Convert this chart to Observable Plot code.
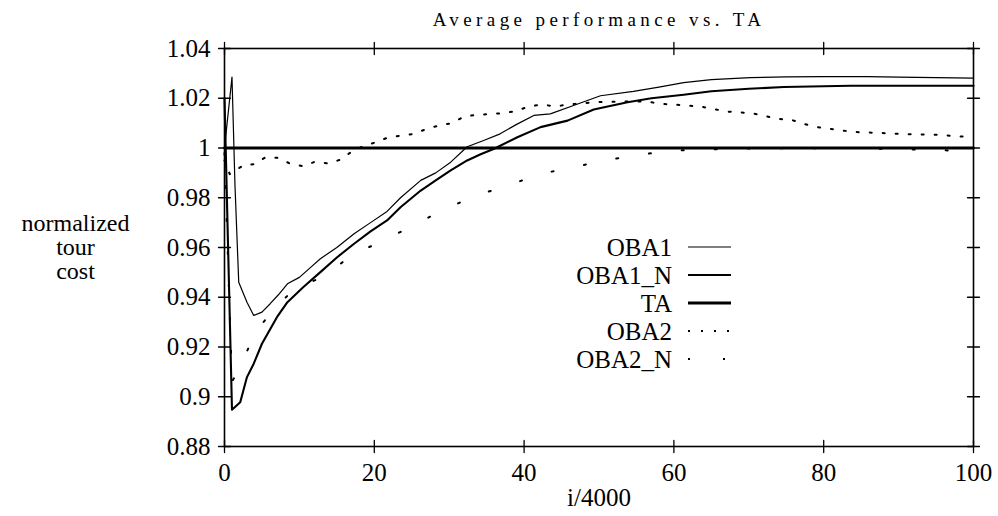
<!DOCTYPE html>
<html><head><meta charset="utf-8">
<script src="https://cdn.jsdelivr.net/npm/d3@7"></script>
<script src="https://cdn.jsdelivr.net/npm/@observablehq/plot@0.6"></script>
<style>
body{margin:0;background:#fff;}
#chart{position:relative;width:998px;height:516px;}
</style></head><body><div id="chart"></div>
<script>
// ---- data ----
const xTicks = [0, 20, 40, 60, 80, 100];
const xTickLabels = ["0", "20", "40", "60", "80", "100"];
const yTicks = [0.88, 0.90, 0.92, 0.94, 0.96, 0.98, 1.00, 1.02, 1.04];
const yTickLabels = ["0.88", "0.9", "0.92", "0.94", "0.96", "0.98", "1", "1.02", "1.04"];

const seriesNames = ["OBA1", "OBA1_N", "TA", "OBA2", "OBA2_N"];

const oba1X = [0, 1, 1.4, 1.9, 3, 3.9, 5, 6.1, 7.2, 8.4, 10, 11.5, 12.8, 15, 17.3, 19.5, 21.7, 23.5, 26.2, 28.2, 30.2, 32.4, 34.6, 36.8, 39, 41.3, 43.5, 46.6, 50.2, 54.6, 58, 61.3, 65, 70.2, 75, 80, 85.8, 90, 95, 100];
const oba1Y = [1.000, 1.0285, 0.985, 0.946, 0.938, 0.9327, 0.934, 0.9374, 0.941, 0.9454, 0.948, 0.952, 0.9555, 0.960, 0.9655, 0.970, 0.9745, 0.980, 0.987, 0.990, 0.9943, 1.0005, 1.003, 1.0057, 1.0095, 1.0131, 1.0137, 1.0171, 1.0210, 1.0228, 1.0245, 1.0263, 1.0275, 1.0283, 1.0286, 1.0287, 1.0287, 1.0285, 1.0283, 1.0281];

const oba1nX = [0, 1, 2.1, 3, 3.9, 5, 7, 8.4, 10.5, 12.8, 15, 17.3, 19.5, 21.7, 23.5, 26.2, 28.2, 30.2, 32.4, 34.2, 36, 39.1, 42.2, 45.8, 49.3, 53.8, 57, 61.3, 65, 70, 74.7, 80, 83.6, 90, 100];
const oba1nY = [1.02, 0.8948, 0.8978, 0.9079, 0.9133, 0.9213, 0.932, 0.938, 0.944, 0.9501, 0.956, 0.9615, 0.9665, 0.9709, 0.9762, 0.9829, 0.987, 0.991, 0.995, 0.9975, 0.9997, 1.0043, 1.0084, 1.011, 1.0155, 1.0184, 1.0200, 1.0214, 1.0228, 1.0238, 1.0245, 1.0248, 1.025, 1.025, 1.025];

const taX = [0, 100];
const taY = [1.0, 1.0];

const oba2X = [0, 0.7, 2.6, 4, 5.5, 7.3, 8.8, 10.5, 12.1, 13.8, 15.5, 17, 18.5, 20.2, 21.9, 23.6, 25.3, 27, 28.6, 30.4, 32, 33.7, 35.5, 37.2, 38.9, 40.6, 42.4, 44.1, 46, 49.3, 53, 56.4, 58.1, 61.7, 63.5, 65.1, 66.9, 70.4, 72.2, 73.9, 75.7, 77.3, 79.1, 80.9, 82.6, 84.4, 87.9, 91.5, 95.1, 98.5, 100];
const oba2Y = [0.995, 0.9895, 0.9932, 0.9935, 0.9963, 0.996, 0.9936, 0.9927, 0.9945, 0.9938, 0.9953, 0.9986, 1.0007, 1.0023, 1.0043, 1.005, 1.0057, 1.0077, 1.009, 1.010, 1.0127, 1.0133, 1.0137, 1.014, 1.0148, 1.0167, 1.0175, 1.0167, 1.0175, 1.0184, 1.0187, 1.0187, 1.0178, 1.0171, 1.0167, 1.0158, 1.0147, 1.014, 1.0128, 1.0117, 1.0113, 1.0097, 1.0084, 1.0077, 1.007, 1.0064, 1.006, 1.0055, 1.0053, 1.0046, 1.0045];

const oba2nX = [0, 1, 2.3, 4, 6.5, 9.5, 13.5, 17, 21.1, 25.3, 29.3, 33.5, 37.8, 42.2, 46.6, 51.1, 55.6, 60.3, 65, 70, 83.3, 90, 97.2, 100];
const oba2nY = [0.998, 0.906, 0.9133, 0.9253, 0.935, 0.9438, 0.9485, 0.9572, 0.9625, 0.9691, 0.9752, 0.9808, 0.9849, 0.9896, 0.9923, 0.9952, 0.9974, 0.999, 0.9995, 0.9998, 1.0, 0.9995, 0.999, 0.999];

const titleText = "Average performance vs. TA";
const xLabel = "i/4000";
const yLabel = "normalized\ntour\ncost";

// ---- build rows ----
const rows = (xs, ys) => xs.map((x, i) => ({x, y: ys[i]}));
const oba1 = rows(oba1X, oba1Y);
const oba1n = rows(oba1nX, oba1nY);
const ta = rows(taX, taY);
const oba2 = rows(oba2X, oba2Y);
const oba2n = rows(oba2nX, oba2nY);

const FONT = "Liberation Serif";
const styles = {
  OBA1:   {stroke: "black", strokeWidth: 1.2},
  OBA1_N: {stroke: "black", strokeWidth: 2.1},
  TA:     {stroke: "black", strokeWidth: 2.8},
  OBA2:   {stroke: "black", strokeWidth: 2, strokeDasharray: "2,11"},
  OBA2_N: {stroke: "black", strokeWidth: 2, strokeDasharray: "2,31"}
};

const tickSpike = (opts) => Plot.vector(opts.data, {...opts.channels, frameAnchor: opts.anchor, rotate: opts.rotate, length: 12, shape: "spike", r: 0, stroke: "black", strokeWidth: 1.3});

const chart = Plot.plot({
  width: 998,
  height: 516,
  marginLeft: 224,
  marginRight: 25,
  marginTop: 48,
  marginBottom: 70,
  style: {fontSize: "25px", background: "white", color: "black"},
  x: {domain: [0, 100]},
  y: {domain: [0.88, 1.04]},
  marks: [
    Plot.axisX(xTicks, {tickSize: 0, tickPadding: 17, fontSize: 25, fontFamily: FONT, label: null,
      tickFormat: d => xTickLabels[xTicks.indexOf(d)]}),
    Plot.axisY(yTicks, {tickSize: 0, tickPadding: 14, fontSize: 25, fontFamily: FONT, label: null,
      tickFormat: d => yTickLabels[yTicks.indexOf(d)]}),
    tickSpike({data: yTicks, channels: {y: d => d}, anchor: "left", rotate: 90}),
    tickSpike({data: yTicks, channels: {y: d => d}, anchor: "right", rotate: -90}),
    tickSpike({data: xTicks, channels: {x: d => d}, anchor: "bottom", rotate: 0}),
    tickSpike({data: xTicks, channels: {x: d => d}, anchor: "top", rotate: 180}),
    Plot.line(ta, {x: "x", y: "y", ...styles.TA}),
    Plot.line(oba1, {x: "x", y: "y", ...styles.OBA1}),
    Plot.line(oba1n, {x: "x", y: "y", ...styles.OBA1_N}),
    Plot.line(oba2, {x: "x", y: "y", ...styles.OBA2}),
    Plot.line(oba2n, {x: "x", y: "y", ...styles.OBA2_N}),
    Plot.frame({stroke: "black", strokeWidth: 1.6}),
    Plot.text([titleText], {frameAnchor: "top", dy: -29, lineAnchor: "middle", fontSize: 19, fontFamily: FONT}),
    Plot.text([xLabel], {frameAnchor: "bottom", dy: 51, lineAnchor: "middle", fontSize: 25, fontFamily: FONT}),
    Plot.text([yLabel], {frameAnchor: "left", dx: -149, dy: 0, lineAnchor: "middle", textAnchor: "middle", lineHeight: 1.0, fontSize: 24, fontFamily: FONT})
  ]
});

document.getElementById("chart").appendChild(chart);
const svg = d3.select(chart);
svg.attr("font-family", FONT).style("font-family", "'Liberation Serif', serif");
svg.selectAll("text").style("font-family", "'Liberation Serif', serif");
svg.selectAll("text").filter(function () { return this.textContent === titleText; })
  .attr("letter-spacing", "4.4px").style("letter-spacing", "4.4px");

// ---- in-plot legend ----
const legendTextRight = 672, sx1 = 688, sx2 = 731, baseline0 = 256, rowGap = 28;
const legendDash = {OBA1: null, OBA1_N: null, TA: null, OBA2: "2,11", OBA2_N: "2,33,2,6"};
const lg = svg.append("g").attr("aria-label", "legend");
seriesNames.forEach((name, i) => {
  const yb = baseline0 + i * rowGap;
  lg.append("text").attr("x", legendTextRight).attr("y", yb)
    .attr("text-anchor", "end").attr("font-size", 25).attr("fill", "black")
    .style("font-family", "'Liberation Serif', serif").text(name);
  const st = styles[name];
  lg.append("line").attr("x1", sx1).attr("x2", sx2).attr("y1", yb - 9).attr("y2", yb - 9)
    .attr("stroke", "black").attr("stroke-width", st.strokeWidth)
    .attr("stroke-dasharray", legendDash[name]);
});
</script></body></html>
